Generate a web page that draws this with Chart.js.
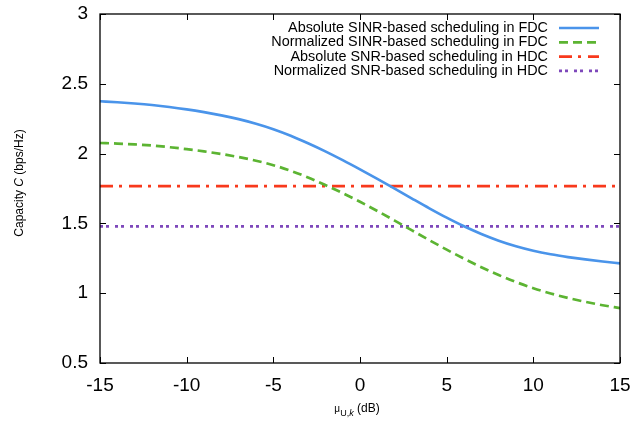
<!DOCTYPE html>
<html>
<head>
<meta charset="utf-8">
<script src="https://cdn.jsdelivr.net/npm/chart.js@4.4.1/dist/chart.umd.min.js"></script>
<style>
  html, body { margin: 0; padding: 0; background: #ffffff; }
  #wrap { width: 632px; height: 425px; position: relative; }
</style>
</head>
<body>
<div id="wrap"><canvas id="c" width="632" height="425"></canvas></div>
<script>
// ---- data ----
const xValues = [-15,-14,-13,-12,-11,-10,-9,-8,-7,-6,-5,-4,-3,-2,-1,0,1,2,3,4,5,6,7,8,9,10,11,12,13,14,15];
const absSinrFdc = [2.375,2.368,2.359,2.348,2.334,2.317,2.297,2.274,2.247,2.214,2.175,2.128,2.074,2.016,1.953,1.887,1.819,1.749,1.678,1.608,1.541,1.479,1.424,1.376,1.336,1.304,1.279,1.259,1.242,1.227,1.214];
const normSinrFdc = [2.076,2.072,2.066,2.058,2.046,2.032,2.016,1.997,1.975,1.949,1.917,1.877,1.829,1.775,1.717,1.655,1.589,1.520,1.450,1.380,1.312,1.247,1.186,1.130,1.080,1.036,0.998,0.966,0.938,0.914,0.893];
const absSnrHdc = xValues.map(() => 1.767);
const normSnrHdc = xValues.map(() => 1.478);
const seriesLabels = [
  'Absolute SINR-based scheduling in FDC',
  'Normalized SINR-based scheduling in FDC',
  'Absolute SNR-based scheduling in HDC',
  'Normalized SNR-based scheduling in HDC'
];
const xTicks = [-15,-10,-5,0,5,10,15];
const yTicks = [0.5,1,1.5,2,2.5,3];
const yTickLabels = ['0.5','1','1.5','2','2.5','3'];

const FONT = '"Liberation Sans", Arial, Helvetica, sans-serif';
const toPts = (ys) => xValues.map((x, i) => ({x: x, y: ys[i]}));

const styles = [
  {color: '#4a94ea', dash: []},
  {color: '#5cb432', dash: [9, 5]},
  {color: '#f8391c', dash: [13, 6, 3, 7]},
  {color: '#7e48bb', dash: [3, 3, 3, 6]}
];
const seriesData = [absSinrFdc, normSinrFdc, absSnrHdc, normSnrHdc];

const datasets = seriesData.map((ys, i) => ({
  label: seriesLabels[i],
  data: toPts(ys),
  borderColor: styles[i].color,
  backgroundColor: styles[i].color,
  borderDash: styles[i].dash,
  borderWidth: 2.7,
  pointRadius: 0,
  fill: false,
  cubicInterpolationMode: 'monotone'
}));

const framePlugin = {
  id: 'frame',
  afterDatasetsDraw(chart) {
    const ctx = chart.ctx;
    const a = chart.chartArea;
    const xs = chart.scales.x, ys = chart.scales.y;
    ctx.save();
    ctx.strokeStyle = '#000';
    ctx.lineWidth = 1.3;
    ctx.setLineDash([]);
    ctx.strokeRect(a.left, a.top, a.right - a.left, a.bottom - a.top);
    const tl = 6;
    ctx.lineWidth = 1;
    ctx.beginPath();
    xTicks.forEach(v => {
      const px = Math.round(xs.getPixelForValue(v)) + 0.5;
      ctx.moveTo(px, a.bottom); ctx.lineTo(px, a.bottom - tl);
      ctx.moveTo(px, a.top); ctx.lineTo(px, a.top + tl);
    });
    yTicks.forEach(v => {
      const py = Math.round(ys.getPixelForValue(v)) + 0.5;
      ctx.moveTo(a.left, py); ctx.lineTo(a.left + tl, py);
      ctx.moveTo(a.right, py); ctx.lineTo(a.right - tl, py);
    });
    ctx.stroke();

    // legend (gnuplot style: right-aligned text, sample on the right)
    const textRight = 548, lineL = 559, lineR = 599;
    const y0 = 28, dy = 14.3;
    ctx.font = '14.4px ' + FONT;
    ctx.textAlign = 'right';
    ctx.textBaseline = 'middle';
    chart.data.datasets.forEach((ds, i) => {
      const y = y0 + i * dy;
      ctx.fillStyle = '#000';
      ctx.fillText(ds.label, textRight, y);
      ctx.strokeStyle = ds.borderColor;
      ctx.lineWidth = ds.borderWidth;
      ctx.setLineDash(ds.borderDash || []);
      ctx.beginPath();
      ctx.moveTo(lineL, y); ctx.lineTo(lineR, y);
      ctx.stroke();
    });
    ctx.setLineDash([]);

    // x axis title: mu_{U,k} (dB)
    ctx.fillStyle = '#000';
    ctx.textAlign = 'left';
    ctx.textBaseline = 'alphabetic';
    const parts = [
      {t: '\u03BC', f: '10px ' + FONT, dy: 0},
      {t: 'U,', f: '9px ' + FONT, dy: 3.5},
      {t: 'k', f: 'italic 9px ' + FONT, dy: 3.5},
      {t: ' (dB)', f: '12px ' + FONT, dy: 0}
    ];
    let w = 0;
    parts.forEach(p => { ctx.font = p.f; w += ctx.measureText(p.t).width; });
    let x = (a.left + a.right) / 2 - w / 2 - 3;
    const by = 412;
    parts.forEach(p => {
      ctx.font = p.f;
      ctx.fillText(p.t, x, by + p.dy);
      x += ctx.measureText(p.t).width;
    });

    // y axis title: Capacity C (bps/Hz)
    const yparts = [
      {t: 'Capacity ', f: '12px ' + FONT},
      {t: 'C', f: 'italic 12px ' + FONT},
      {t: ' (bps/Hz)', f: '12px ' + FONT}
    ];
    let wy = 0;
    yparts.forEach(p => { ctx.font = p.f; wy += ctx.measureText(p.t).width; });
    ctx.translate(23, 183);
    ctx.rotate(-Math.PI / 2);
    let xx = -wy / 2;
    yparts.forEach(p => {
      ctx.font = p.f;
      ctx.fillText(p.t, xx, 0);
      xx += ctx.measureText(p.t).width;
    });
    ctx.restore();
  }
};

new Chart(document.getElementById('c'), {
  type: 'line',
  data: { datasets: datasets },
  options: {
    responsive: false,
    animation: false,
    devicePixelRatio: 1,
    layout: { padding: { top: 14, right: 12, left: 0, bottom: 0 } },
    plugins: { legend: { display: false }, tooltip: { enabled: false } },
    scales: {
      x: {
        type: 'linear',
        min: -15, max: 15,
        grid: { display: false, drawTicks: false },
        border: { display: false },
        afterBuildTicks: (s) => { s.ticks = xTicks.map(v => ({value: v})); },
        afterFit: (s) => { s.height = 62; s.paddingLeft = 0; s.paddingRight = 0; },
        ticks: { color: '#000', font: { family: FONT, size: 19 }, padding: 11, maxRotation: 0, autoSkip: false,
                 callback: (v) => String(v) }
      },
      y: {
        type: 'linear',
        min: 0.5, max: 3,
        grid: { display: false, drawTicks: false },
        border: { display: false },
        afterBuildTicks: (s) => { s.ticks = yTicks.map(v => ({value: v})); },
        afterFit: (s) => { s.width = 100; s.paddingTop = 0; s.paddingBottom = 0; },
        ticks: { color: '#000', font: { family: FONT, size: 19 }, padding: 12,
                 callback: (v) => { const i = yTicks.indexOf(v); return i >= 0 ? yTickLabels[i] : String(v); } }
      }
    }
  },
  plugins: [framePlugin]
});
</script>
</body>
</html>
